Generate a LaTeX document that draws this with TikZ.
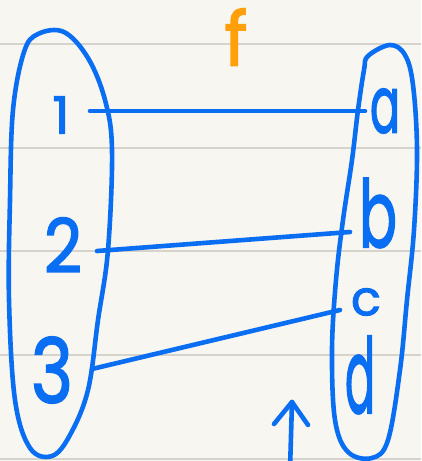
\documentclass[tikz,border=0pt]{standalone}
\usepackage{fontspec}
\setmainfont{Poppins}
\newfontfamily\handfont[FakeBold=2]{Poppins}
\usepackage{graphicx}
\definecolor{ink}{HTML}{0A6EF2}
\definecolor{orangeink}{HTML}{FF9F0A}
\definecolor{paper}{HTML}{F8F6F1}
\definecolor{rule}{HTML}{D6D2CC}
\tikzset{
  pen/.style={draw=ink, line width=4.6pt, line cap=round, line join=round},
  lab/.style={inner sep=0pt, outer sep=0pt, text=ink, font=\normalsize\handfont},
  rulerline/.style={draw=rule, line width=1.2pt},
}
\begin{document}
\begin{tikzpicture}[x=1pt,y=-1pt]
\fill[paper] (0,0) rectangle (421,461);
\useasboundingbox (0,0) rectangle (421,461);
\foreach \yy in {44,148,251,355,459} {\draw[rulerline] (0,\yy) -- (421,\yy);}

% sets
\draw[pen] plot[smooth cycle, tension=0.6] coordinates {
  (38,34) (64,32) (88,58) (105,100) (112,150) (108,250) (98,320) (88,390)
  (70,435) (52,456) (30,448) (15,400) (9,300) (10,200) (13,110) (24,52)};
\draw[pen] plot[smooth cycle, tension=0.6] coordinates {
  (368,56) (390,45) (405,55) (413,85) (417,150) (414,230) (407,300) (400,370)
  (388,440) (372,458) (348,452) (335,420) (332,350) (336,280) (343,220)
  (352,160) (358,110) (364,70)};

% labels
\node[lab] (n1) at (61,115) {\resizebox{17pt}{37pt}{1}};
\node[lab] (n2) at (63,245) {\resizebox{38pt}{55pt}{2}};
\node[lab] (n3) at (52,370) {\resizebox{42pt}{66pt}{3}};
\node[lab] (na) at (385,111) {\resizebox{30pt}{44pt}{a}};
\node[lab] (nb) at (378,213) {\resizebox{38pt}{69pt}{b}};
\node[lab] (nc) at (366,302) {\resizebox{30pt}{27pt}{c}};
\node[lab] (nd) at (360,375) {\resizebox{30pt}{77pt}{d}};
\node[lab, text=orangeink] (nf) at (236,37) {\resizebox{23pt}{57pt}{f}};

% mapping lines
\coordinate (s1) at (90,111); \coordinate (t1) at (365,111);
\coordinate (s2) at (97,251); \coordinate (t2) at (350,232);
\coordinate (s3) at (92,369); \coordinate (t3) at (340,310);
\draw[pen] (s1) -- (t1);
\draw[pen] (s2) -- (t2);
\draw[pen] (s3) -- (t3);

% arrow
\coordinate (tip) at (292,402);
\coordinate (tail) at (290,470);
\coordinate (al) at (274,424);
\coordinate (ar) at (308,425);
\draw[pen] (tail) -- (tip);
\draw[pen] (al) -- (tip) -- (ar);
\end{tikzpicture}
\end{document}
